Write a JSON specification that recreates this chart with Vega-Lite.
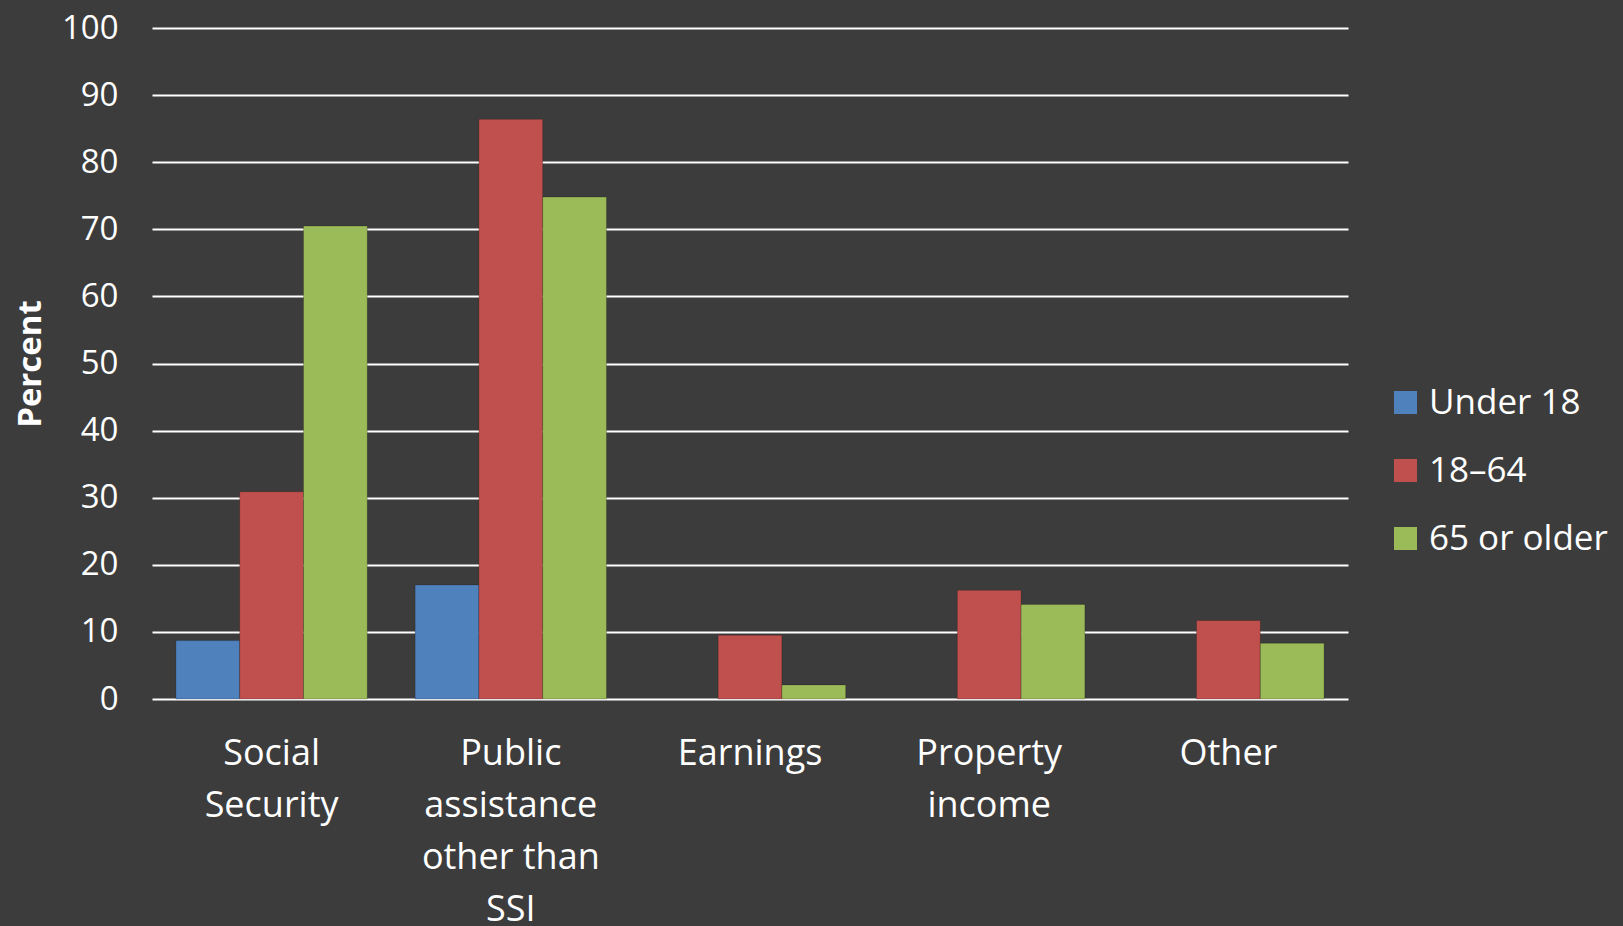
{
  "$schema": "https://vega.github.io/schema/vega-lite/v6.json",
  "width": 1196,
  "height": 671,
  "autosize": {"type": "none"},
  "padding": {"left": 152, "top": 28, "right": 275, "bottom": 227},
  "background": "#3c3c3c",
  "config": {"view": {"stroke": null}, "font": "Open Sans"},
  "data": {
    "values": [
      {"source": "Social Security", "group": "Under 18", "percent": 8.7},
      {"source": "Social Security", "group": "18–64", "percent": 30.9},
      {"source": "Social Security", "group": "65 or older", "percent": 70.5},
      {"source": "Public assistance other than SSI", "group": "Under 18", "percent": 17.0},
      {"source": "Public assistance other than SSI", "group": "18–64", "percent": 86.4},
      {"source": "Public assistance other than SSI", "group": "65 or older", "percent": 74.8},
      {"source": "Earnings", "group": "18–64", "percent": 9.5},
      {"source": "Earnings", "group": "65 or older", "percent": 2.1},
      {"source": "Property income", "group": "18–64", "percent": 16.2},
      {"source": "Property income", "group": "65 or older", "percent": 14.1},
      {"source": "Other", "group": "18–64", "percent": 11.7},
      {"source": "Other", "group": "65 or older", "percent": 8.3}
    ]
  },
  "mark": {"type": "bar", "stroke": "#000000", "strokeOpacity": 0.2, "strokeWidth": 1},
  "encoding": {
    "x": {
      "field": "source",
      "type": "nominal",
      "sort": ["Social Security", "Public assistance other than SSI", "Earnings", "Property income", "Other"],
      "scale": {"paddingInner": 0.2, "paddingOuter": 0.1},
      "axis": {
        "title": null,
        "labelAngle": 0,
        "labelColor": "#ffffff",
        "labelFontSize": 36,
        "labelLineHeight": 52,
        "labelPadding": 37,
        "labelBaseline": "top",
        "labelLimit": 0,
        "labelExpr": "datum.label == 'Social Security' ? ['Social', 'Security'] : datum.label == 'Public assistance other than SSI' ? ['Public', 'assistance', 'other than', 'SSI'] : datum.label == 'Property income' ? ['Property', 'income'] : datum.label",
        "ticks": false,
        "domain": false,
        "grid": false
      }
    },
    "xOffset": {"field": "group", "sort": ["Under 18", "18–64", "65 or older"]},
    "y": {
      "field": "percent",
      "type": "quantitative",
      "scale": {"domain": [0, 100], "nice": false},
      "axis": {
        "title": "Percent",
        "titleColor": "#ffffff",
        "titleFontSize": 33,
        "titleFontWeight": "bold",
        "titlePadding": 14,
        "values": [0, 10, 20, 30, 40, 50, 60, 70, 80, 90, 100],
        "labelColor": "#ffffff",
        "labelFontSize": 33,
        "labelPadding": 34,
        "ticks": false,
        "domain": false,
        "grid": true,
        "gridColor": "#ffffff",
        "gridWidth": 2,
        "gridOpacity": 1
      }
    },
    "color": {
      "field": "group",
      "type": "nominal",
      "scale": {"domain": ["Under 18", "18–64", "65 or older"], "range": ["#4f81bd", "#c0504d", "#9bbb59"]},
      "legend": {
        "title": null,
        "orient": "none",
        "legendX": 1236,
        "legendY": 357,
        "padding": 0,
        "symbolType": "square",
        "symbolSize": 529,
        "symbolStrokeWidth": 0,
        "symbolOpacity": 1,
        "labelColor": "#ffffff",
        "labelFontSize": 35,
        "labelLimit": 0,
        "labelOffset": 6,
        "rowPadding": 32
      }
    }
  }
}
